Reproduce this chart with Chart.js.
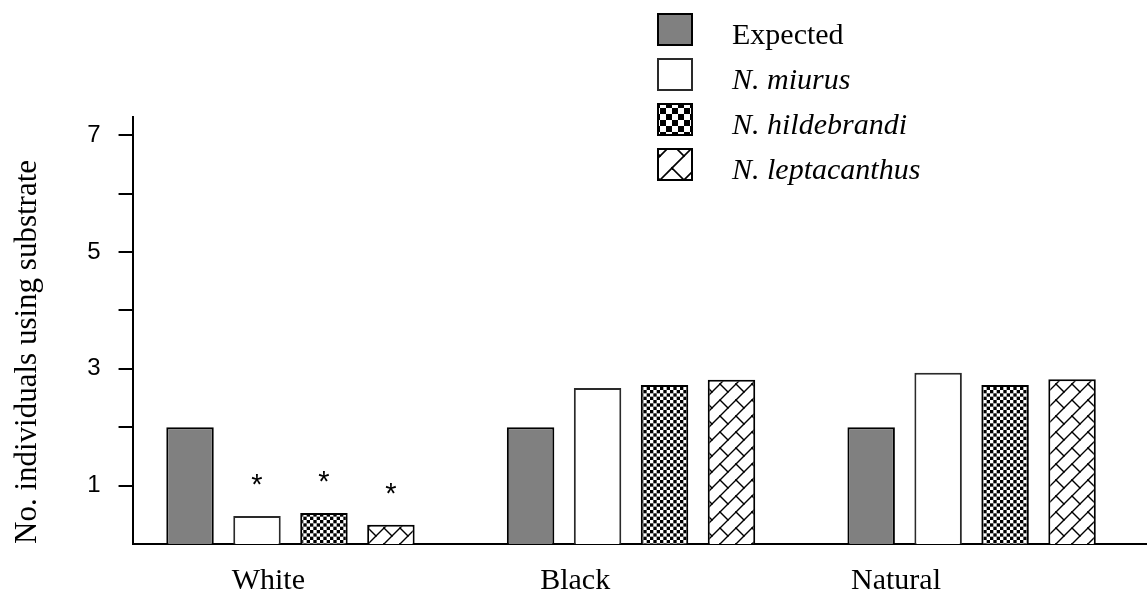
<!DOCTYPE html>
<html>
<head>
<meta charset="utf-8">
<title>Substrate use</title>
<script src="https://cdn.jsdelivr.net/npm/chart.js@4.4.1/dist/chart.umd.min.js"></script>
<style>
  html, body { margin: 0; padding: 0; background: #ffffff; }
  canvas { display: block; }
</style>
</head>
<body>
<canvas id="substrateChart" width="1147" height="603"></canvas>
<script>
// Substrate categories and the number of individuals on each
const substrates = ['White', 'Black', 'Natural'];
const expected = [2, 2, 2];
const miurus = [0.48, 2.67, 2.93];
const hildebrandi = [0.53, 2.72, 2.72];
const leptacanthus = [0.33, 2.81, 2.82];
const seriesNames = ['Expected', 'N. miurus', 'N. hildebrandi', 'N. leptacanthus'];

// Which bars differ significantly from the expected count (marked with *)
const significant = [
  [false, false, false],
  [true, false, false],
  [true, false, false],
  [true, false, false]
];

// Y axis ticks: a mark at each unit, numbers on the odd ones
const yTickValues = [1, 2, 3, 4, 5, 6, 7];
const yTickLabels = ['1', '', '3', '', '5', '', '7'];

// Where the substrate names sit along the x axis (in group units)
const labelAnchors = [-0.065, 0.836, 1.778];

const SERIF = '"Liberation Serif", "Times New Roman", serif';
const SANS = '"Liberation Sans", Arial, sans-serif';
const X_MIN = -0.4637;
const X_MAX = 2.515;

// ---- fill patterns ----
function checkerPattern(cell, reps) {
  const size = cell * 2 * reps;
  const c = document.createElement('canvas');
  c.width = Math.round(size); c.height = Math.round(size);
  const g = c.getContext('2d');
  g.fillStyle = '#ffffff';
  g.fillRect(0, 0, c.width, c.height);
  g.fillStyle = '#000000';
  for (let r = 0; r < reps * 2; r++) {
    for (let q = 0; q < reps * 2; q++) {
      if ((r + q) % 2 === 0) g.fillRect(q * cell, r * cell, cell, cell);
    }
  }
  return g.createPattern(c, 'repeat');
}

// diagonal brickwork: long "/" strokes joined by staggered short "\" strokes
function brickPattern(T, width) {
  const S = 2 * T;
  const c = document.createElement('canvas');
  c.width = S; c.height = S;
  const g = c.getContext('2d');
  g.fillStyle = '#ffffff';
  g.fillRect(0, 0, S, S);
  g.strokeStyle = '#000000';
  g.lineWidth = width;
  g.lineCap = 'square';
  const segs = [
    [0, T, T, 0], [0, 2 * T, 2 * T, 0], [T, 2 * T, 2 * T, T],
    [0, 0, T / 2, T / 2], [T, 0, 1.5 * T, T / 2],
    [T, T, 1.5 * T, 1.5 * T], [0, T, T / 2, 1.5 * T]
  ];
  for (const [x1, y1, x2, y2] of segs) {
    for (const dx of [-S, 0, S]) {
      for (const dy of [-S, 0, S]) {
        g.beginPath();
        g.moveTo(x1 + dx, y1 + dy);
        g.lineTo(x2 + dx, y2 + dy);
        g.stroke();
      }
    }
  }
  return g.createPattern(c, 'repeat');
}

const toPoints = arr => arr.map((v, i) => ({ x: i, y: v }));

const datasets = [
  {
    label: seriesNames[0], data: toPoints(expected),
    backgroundColor: '#808080', borderColor: '#000000', borderWidth: 2,
    italicLabel: false
  },
  {
    label: seriesNames[1], data: toPoints(miurus),
    backgroundColor: '#ffffff', borderColor: '#2a2a2a', borderWidth: 2,
    italicLabel: true
  },
  {
    label: seriesNames[2], data: toPoints(hildebrandi),
    backgroundColor: checkerPattern(10 / 3, 3), borderColor: '#000000', borderWidth: 2,
    legendFill: checkerPattern(6, 2),
    italicLabel: true
  },
  {
    label: seriesNames[3], data: toPoints(leptacanthus),
    backgroundColor: brickPattern(16, 1.4), borderColor: '#000000', borderWidth: 2,
    legendFill: brickPattern(24, 1.6),
    italicLabel: true
  }
];

// ---- legend drawn over the upper right of the plot ----
const substrateLegend = {
  id: 'substrateLegend',
  afterDraw(chart, args, opts) {
    const ctx = chart.ctx;
    chart.data.datasets.forEach((ds, i) => {
      const top = opts.top + i * opts.rowPitch;
      ctx.save();
      ctx.fillStyle = ds.legendFill || ds.backgroundColor;
      ctx.fillRect(opts.left, top, opts.boxWidth, opts.boxHeight);
      ctx.lineWidth = 2;
      ctx.strokeStyle = ds.borderColor;
      ctx.strokeRect(opts.left + 1, top + 1, opts.boxWidth - 2, opts.boxHeight - 2);
      ctx.fillStyle = '#000000';
      ctx.font = (ds.italicLabel ? 'italic ' : '') + opts.fontSize + 'px ' + SERIF;
      ctx.textAlign = 'left';
      ctx.textBaseline = 'alphabetic';
      ctx.fillText(ds.label, opts.textX, top + opts.baseline);
      ctx.restore();
    });
  }
};

// ---- significance asterisks above bars ----
const significanceMarks = {
  id: 'significanceMarks',
  afterDatasetsDraw(chart, args, opts) {
    const ctx = chart.ctx;
    ctx.save();
    ctx.fillStyle = '#000000';
    ctx.font = opts.fontSize + 'px ' + SANS;
    ctx.textAlign = 'center';
    ctx.textBaseline = 'alphabetic';
    chart.data.datasets.forEach((ds, i) => {
      const meta = chart.getDatasetMeta(i);
      meta.data.forEach((bar, j) => {
        if (significant[i] && significant[i][j]) {
          ctx.fillText('*', bar.x, bar.y - opts.gap);
        }
      });
    });
    ctx.restore();
  }
};

new Chart(document.getElementById('substrateChart'), {
  type: 'bar',
  data: { datasets },
  options: {
    responsive: false,
    animation: false,
    layout: { padding: { left: 0, top: 117, right: 0, bottom: -15 } },
    datasets: {
      bar: { categoryPercentage: 0.7865, barPercentage: 0.709 }
    },
    plugins: {
      legend: { display: false },
      tooltip: { enabled: false },
      substrateLegend: {
        left: 657, top: 13, rowPitch: 45, boxWidth: 36, boxHeight: 33,
        textX: 732, baseline: 31, fontSize: 30
      },
      significanceMarks: { fontSize: 29, gap: 22 }
    },
    scales: {
      x: {
        type: 'linear',
        offset: false,
        min: X_MIN, max: X_MAX,
        weight: 0,
        afterBuildTicks: s => { s.ticks = substrates.map((_, i) => ({ value: i })); },
        grid: { display: false, drawTicks: false, offset: false },
        ticks: { display: false },
        border: { display: true, color: '#000000', width: 2 }
      },
      xl: {
        type: 'linear',
        position: 'bottom',
        offset: false,
        min: X_MIN, max: X_MAX,
        weight: 1,
        afterBuildTicks: s => { s.ticks = labelAnchors.map(v => ({ value: v })); },
        grid: { display: false, drawTicks: false, offset: false },
        border: { display: false },
        ticks: {
          autoSkip: false, maxRotation: 0, minRotation: 0,
          padding: 19, color: '#000000',
          font: { family: SERIF, size: 30 },
          callback: (v, i) => substrates[i]
        }
      },
      y: {
        min: 0, max: 7.31,
        afterBuildTicks: s => { s.ticks = yTickValues.map(v => ({ value: v })); },
        grid: {
          drawOnChartArea: false, drawTicks: true,
          tickLength: 14, tickWidth: 2, tickColor: '#000000', lineWidth: 2
        },
        border: { display: true, color: '#000000', width: 2 },
        ticks: {
          autoSkip: false, padding: 18, color: '#000000',
          font: { family: SANS, size: 24 },
          callback: (v, i) => yTickLabels[i]
        },
        title: {
          display: true,
          text: 'No. individuals using substrate',
          align: 'start',
          color: '#000000',
          font: { family: SERIF, size: 31 },
          padding: { top: 9, bottom: 23 }
        }
      }
    }
  },
  plugins: [substrateLegend, significanceMarks]
});
</script>
</body>
</html>
